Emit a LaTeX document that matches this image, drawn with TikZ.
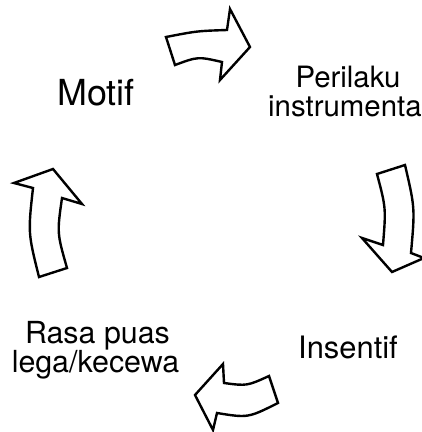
\documentclass[tikz,border=0pt]{standalone}
\usepackage{fontspec}
\setmainfont{TeX Gyre Heros}
\begin{document}
\begin{tikzpicture}[x=1bp,y=-1bp,
  cyclearrow/.style={draw=black,line width=2.4bp,line join=miter,fill=white},
  lbl/.style={inner sep=0pt,anchor=base}]
\clip (0,0) rectangle (422,432);
\useasboundingbox (0,0) rectangle (422,432);
% top arrow (to the right)
\draw[cyclearrow] (166,37) .. controls (197,31) .. (227,30) -- (230,9) -- (250,47) -- (220,80) -- (222,62)
  .. controls (198,56.5) .. (175,65) -- cycle;
% right arrow (down)
\draw[cyclearrow] (405,165) .. controls (415,208) .. (411,253) -- (424,258) -- (392,272) -- (362,238) -- (383,245)
  .. controls (386,208) .. (377,174) -- cycle;
% bottom arrow (to the left)
\draw[cyclearrow] (269,376) .. controls (247,386) .. (224,383) -- (223,364) -- (195,395) -- (213,430) -- (217,413)
  .. controls (248,418) .. (278,403) -- cycle;
% left arrow (up)
\draw[cyclearrow] (39,277) .. controls (28,233) .. (33,188) -- (14,183) -- (53,169) -- (82,204) -- (62,198)
  .. controls (57,233) .. (67,268) -- cycle;
% labels
\node[lbl,font=\fontsize{36}{40}\selectfont] (motif) at (96,105) {Motif};
\node[lbl,font=\fontsize{29.5}{30}\selectfont] (peri1) at (348,87) {Perilaku};
\node[lbl,font=\fontsize{29.5}{30}\selectfont,anchor=base west] (peri2) at (268,116) {instrumenta};
\node[lbl,font=\fontsize{31}{33}\selectfont] (insentif) at (348,358) {Insentif};
\node[lbl,font=\fontsize{30.5}{32}\selectfont] (rasa1) at (97.5,343) {Rasa puas};
\node[lbl,font=\fontsize{30.5}{32}\selectfont] (rasa2) at (95.5,372) {lega/kecewa};
\end{tikzpicture}
\end{document}
